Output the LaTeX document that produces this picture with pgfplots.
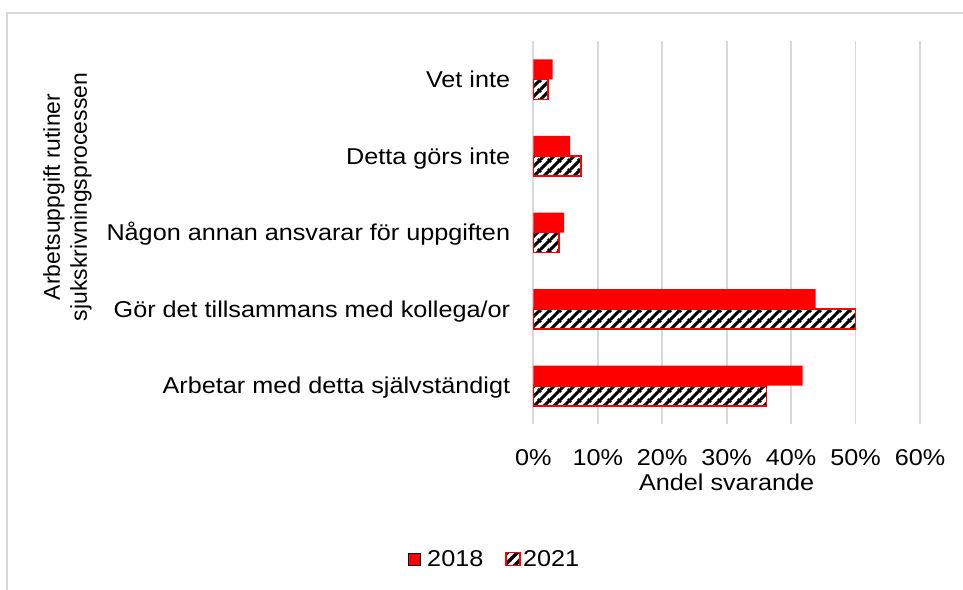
\documentclass[border=0pt]{standalone}
\usepackage{fontspec}
\setmainfont{Liberation Sans}[FakeStretch=1.1]
\newfontfamily\plainsans{Liberation Sans}
\usepackage{pgfplots}
\pgfplotsset{compat=1.18}
\usetikzlibrary{patterns.meta}
\definecolor{gridgray}{HTML}{D9D9D9}
\newcommand\cf{\fontsize{23}{27.6}\selectfont}
\tikzdeclarepattern{
  name=thickhatch,
  type=uncolored,
  bounding box={(0,0) and (10bp,10bp)},
  tile size={(10bp,10bp)},
  code={
    \draw[line width=3.4bp] (-1bp,-1bp) -- (11bp,11bp);
    \draw[line width=3.4bp] (-1bp,9bp) -- (1bp,11bp);
    \draw[line width=3.4bp] (9bp,-1bp) -- (11bp,1bp);
  }
}
\pgfplotsset{
  img2018/.style={legend image code/.code={\draw[##1] (0bp,-5.75bp) rectangle (11.5bp,5.75bp); \path (16.5bp,0bp);}},
  img2021/.style={legend image code/.code={\draw[##1] (0bp,-6.5bp) rectangle (14bp,6.5bp);}},
}
\begin{document}
\begin{tikzpicture}
\path[use as bounding box] (0,0) rectangle (963bp,-590bp);
\draw[gridgray, line width=1.5bp] (7bp,-600bp) -- (7bp,-13bp) -- (970bp,-13bp);
\begin{axis}[
  at={(533.3bp,-424bp)}, anchor=south west,
  scale only axis, width=386.7bp, height=383bp,
  xbar, bar width=20bp,
  xmin=0, xmax=60, ymin=-0.5, ymax=4.5,
  axis line style={draw=none},
  xtick={0,10,...,60}, ytick={0,...,4},
  yticklabels={Arbetar med detta självständigt, Gör det tillsammans med kollega/or, Någon annan ansvarar för uppgiften, Detta görs inte, Vet inte},
  xmajorgrids, ymajorgrids=false,
  grid style={gridgray, line width=1.75bp},
  major tick length=0pt, tick style={draw=none},
  /pgf/number format/assume math mode=true,
  xticklabel={\pgfmathprintnumber{\tick}\%},
  tick label style={font=\cf, inner sep=0pt},
  xticklabel style={anchor=base, yshift=-41bp},
  yticklabel style={anchor=base east, xshift=-23bp, yshift=-8.25bp},
  xlabel={Andel svarande},
  xlabel style={font=\cf, at={(axis description cs:0.5,0)}, anchor=base, yshift=-66bp, inner sep=0pt},
  legend style={at={(rel axis cs:-0.0995,-0.3525)}, anchor=center, draw=none, fill=none,
    font=\cf, inner sep=0pt, nodes={inner xsep=2.3bp, inner ysep=0pt},
    /tikz/every even column/.append style={column sep=19.5bp}},
  legend columns=2,
  clip=false,
]
\addplot[draw=none, fill=red, bar shift=10bp, img2018]
  coordinates {(41.8,0) (43.8,1) (4.8,2) (5.7,3) (3.0,4)};
\addplot[draw=none, fill=white, bar shift=-10bp,
  postaction={pattern=thickhatch, pattern color=black},
  postaction={draw=red, fill=none, line width=1.6bp}, img2021]
  coordinates {(36.2,0) (50.0,1) (4.0,2) (7.4,3) (2.3,4)};
\legend{2018,2021}
\end{axis}
\node[rotate=90, align=center, font=\plainsans\fontsize{23}{27}\selectfont, inner sep=0pt] at (67.5bp,-197bp) {Arbetsuppgift rutiner\\sjukskrivningsprocessen};
\end{tikzpicture}
\end{document}
